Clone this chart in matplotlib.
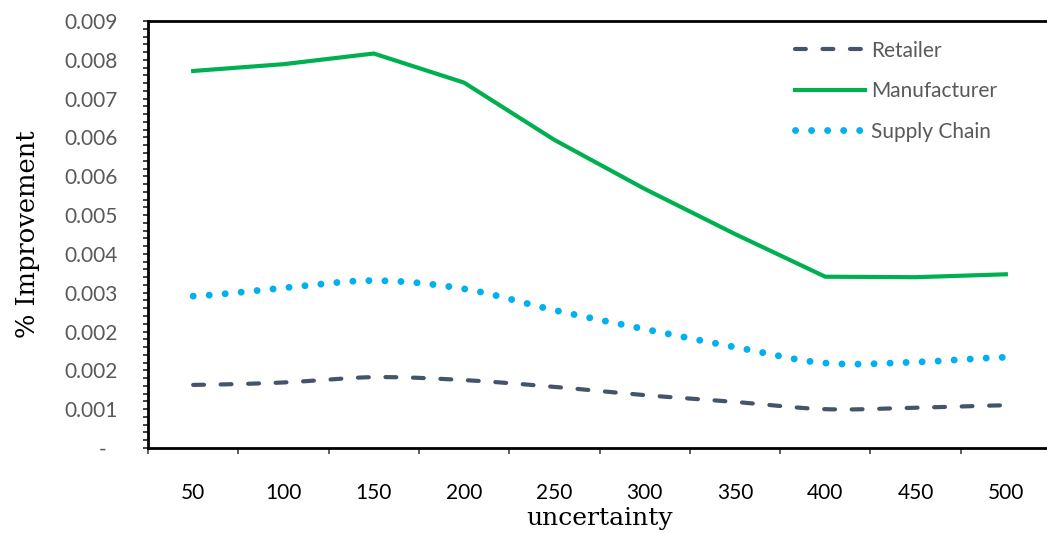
import numpy as np
import matplotlib
matplotlib.use('Agg')
import matplotlib.pyplot as plt
from matplotlib.ticker import FixedLocator, MultipleLocator

# values
uncertainty = [50, 100, 150, 200, 250, 300, 350, 400, 450, 500]
retailer = [0.00130, 0.00135, 0.00146, 0.00140, 0.00126, 0.00109, 0.00095, 0.00080, 0.00083, 0.00088]
manufacturer = [0.00777, 0.00791, 0.00813, 0.00753, 0.00635, 0.00534, 0.00441, 0.00353, 0.00352, 0.00358]
supply_chain = [0.00313, 0.00330, 0.00345, 0.00328, 0.00284, 0.00245, 0.00208, 0.00175, 0.00177, 0.00187]
ytick_labels = ['-  ', '0.001', '0.002', '0.002', '0.003', '0.004', '0.005',
                '0.006', '0.006', '0.007', '0.008', '0.009']


def smooth(y, n=30):
    # catmull-rom, like excel's smoothed line
    y = np.asarray(y, dtype=float)
    p = np.concatenate([[y[0]], y, [y[-1]]])
    xs, ys = [], []
    for i in range(len(y) - 1):
        t = np.linspace(0, 1, n, endpoint=False)
        p0, p1, p2, p3 = p[i], p[i + 1], p[i + 2], p[i + 3]
        seg = 0.5 * ((2 * p1) + (-p0 + p2) * t + (2 * p0 - 5 * p1 + 4 * p2 - p3) * t ** 2
                     + (-p0 + 3 * p1 - 3 * p2 + p3) * t ** 3)
        xs.append(i + t)
        ys.append(seg)
    xs.append([len(y) - 1])
    ys.append([y[-1]])
    return np.concatenate(xs), np.concatenate(ys)


fig = plt.figure(figsize=(10.47, 5.33), dpi=100)
ax = fig.add_axes([148 / 1047, 85 / 533, 903 / 1047, 427 / 533])

x = np.arange(len(uncertainty))
xr, yr = smooth(retailer)
xs, ys = smooth(supply_chain)

ax.plot(xr, yr, color='#44546A', lw=3.0, linestyle=(0, (2.6, 4.0)),
        dash_capstyle='round', label='Retailer')
ax.plot(x, manufacturer, color='#00B050', lw=3.0, solid_joinstyle='miter',
        label='Manufacturer')
ax.plot(xs, ys, color='#00B0F0', lw=5.0, linestyle=(0, (0.01, 2.3)),
        dash_capstyle='round', label='Supply Chain')

ax.set_xlim(-0.5, len(uncertainty) - 0.5)
ax.set_ylim(0, 0.0088)

yt = np.arange(0, 0.0088 + 1e-9, 0.0008)
ax.yaxis.set_major_locator(FixedLocator(yt))
ax.set_yticklabels(ytick_labels)
ax.yaxis.set_minor_locator(MultipleLocator(0.00016))
ax.tick_params(axis='y', which='both', direction='out', length=3.6, width=1.2,
               color='#222222', labelcolor='#595959', labelsize=15, pad=18.5)

ax.xaxis.set_major_locator(FixedLocator(np.arange(-0.5, len(uncertainty), 1)))
ax.xaxis.set_minor_locator(FixedLocator(x))
ax.set_xticklabels([], minor=False)
ax.set_xticklabels([str(u) for u in uncertainty], minor=True)
ax.tick_params(axis='x', which='major', direction='out', length=4.5, width=1.2, color='#444444')
ax.tick_params(axis='x', which='minor', length=0, labelsize=15, labelcolor='black', pad=25)

for lab in ax.get_yticklabels() + ax.get_xticklabels(minor=True):
    lab.set_fontfamily('Lato')

for s in ['left', 'bottom', 'top']:
    ax.spines[s].set_linewidth(2)
    ax.spines[s].set_color('black')
ax.spines['right'].set_visible(False)

ax.set_xlabel('uncertainty', fontsize=18, family='DejaVu Serif', labelpad=3)
ax.set_ylabel('% Improvement', fontsize=18.5, family='DejaVu Serif', labelpad=17)

leg = ax.legend(loc='upper left', bbox_to_anchor=(776 / 1047, 1 - 22 / 533),
                bbox_transform=fig.transFigure, frameon=False,
                prop={'family': 'Lato', 'size': 15}, handlelength=3.36,
                labelspacing=0.98, handletextpad=0.3)
for t in leg.get_texts():
    t.set_color('#595959')

fig.savefig('out.png', dpi=100)
